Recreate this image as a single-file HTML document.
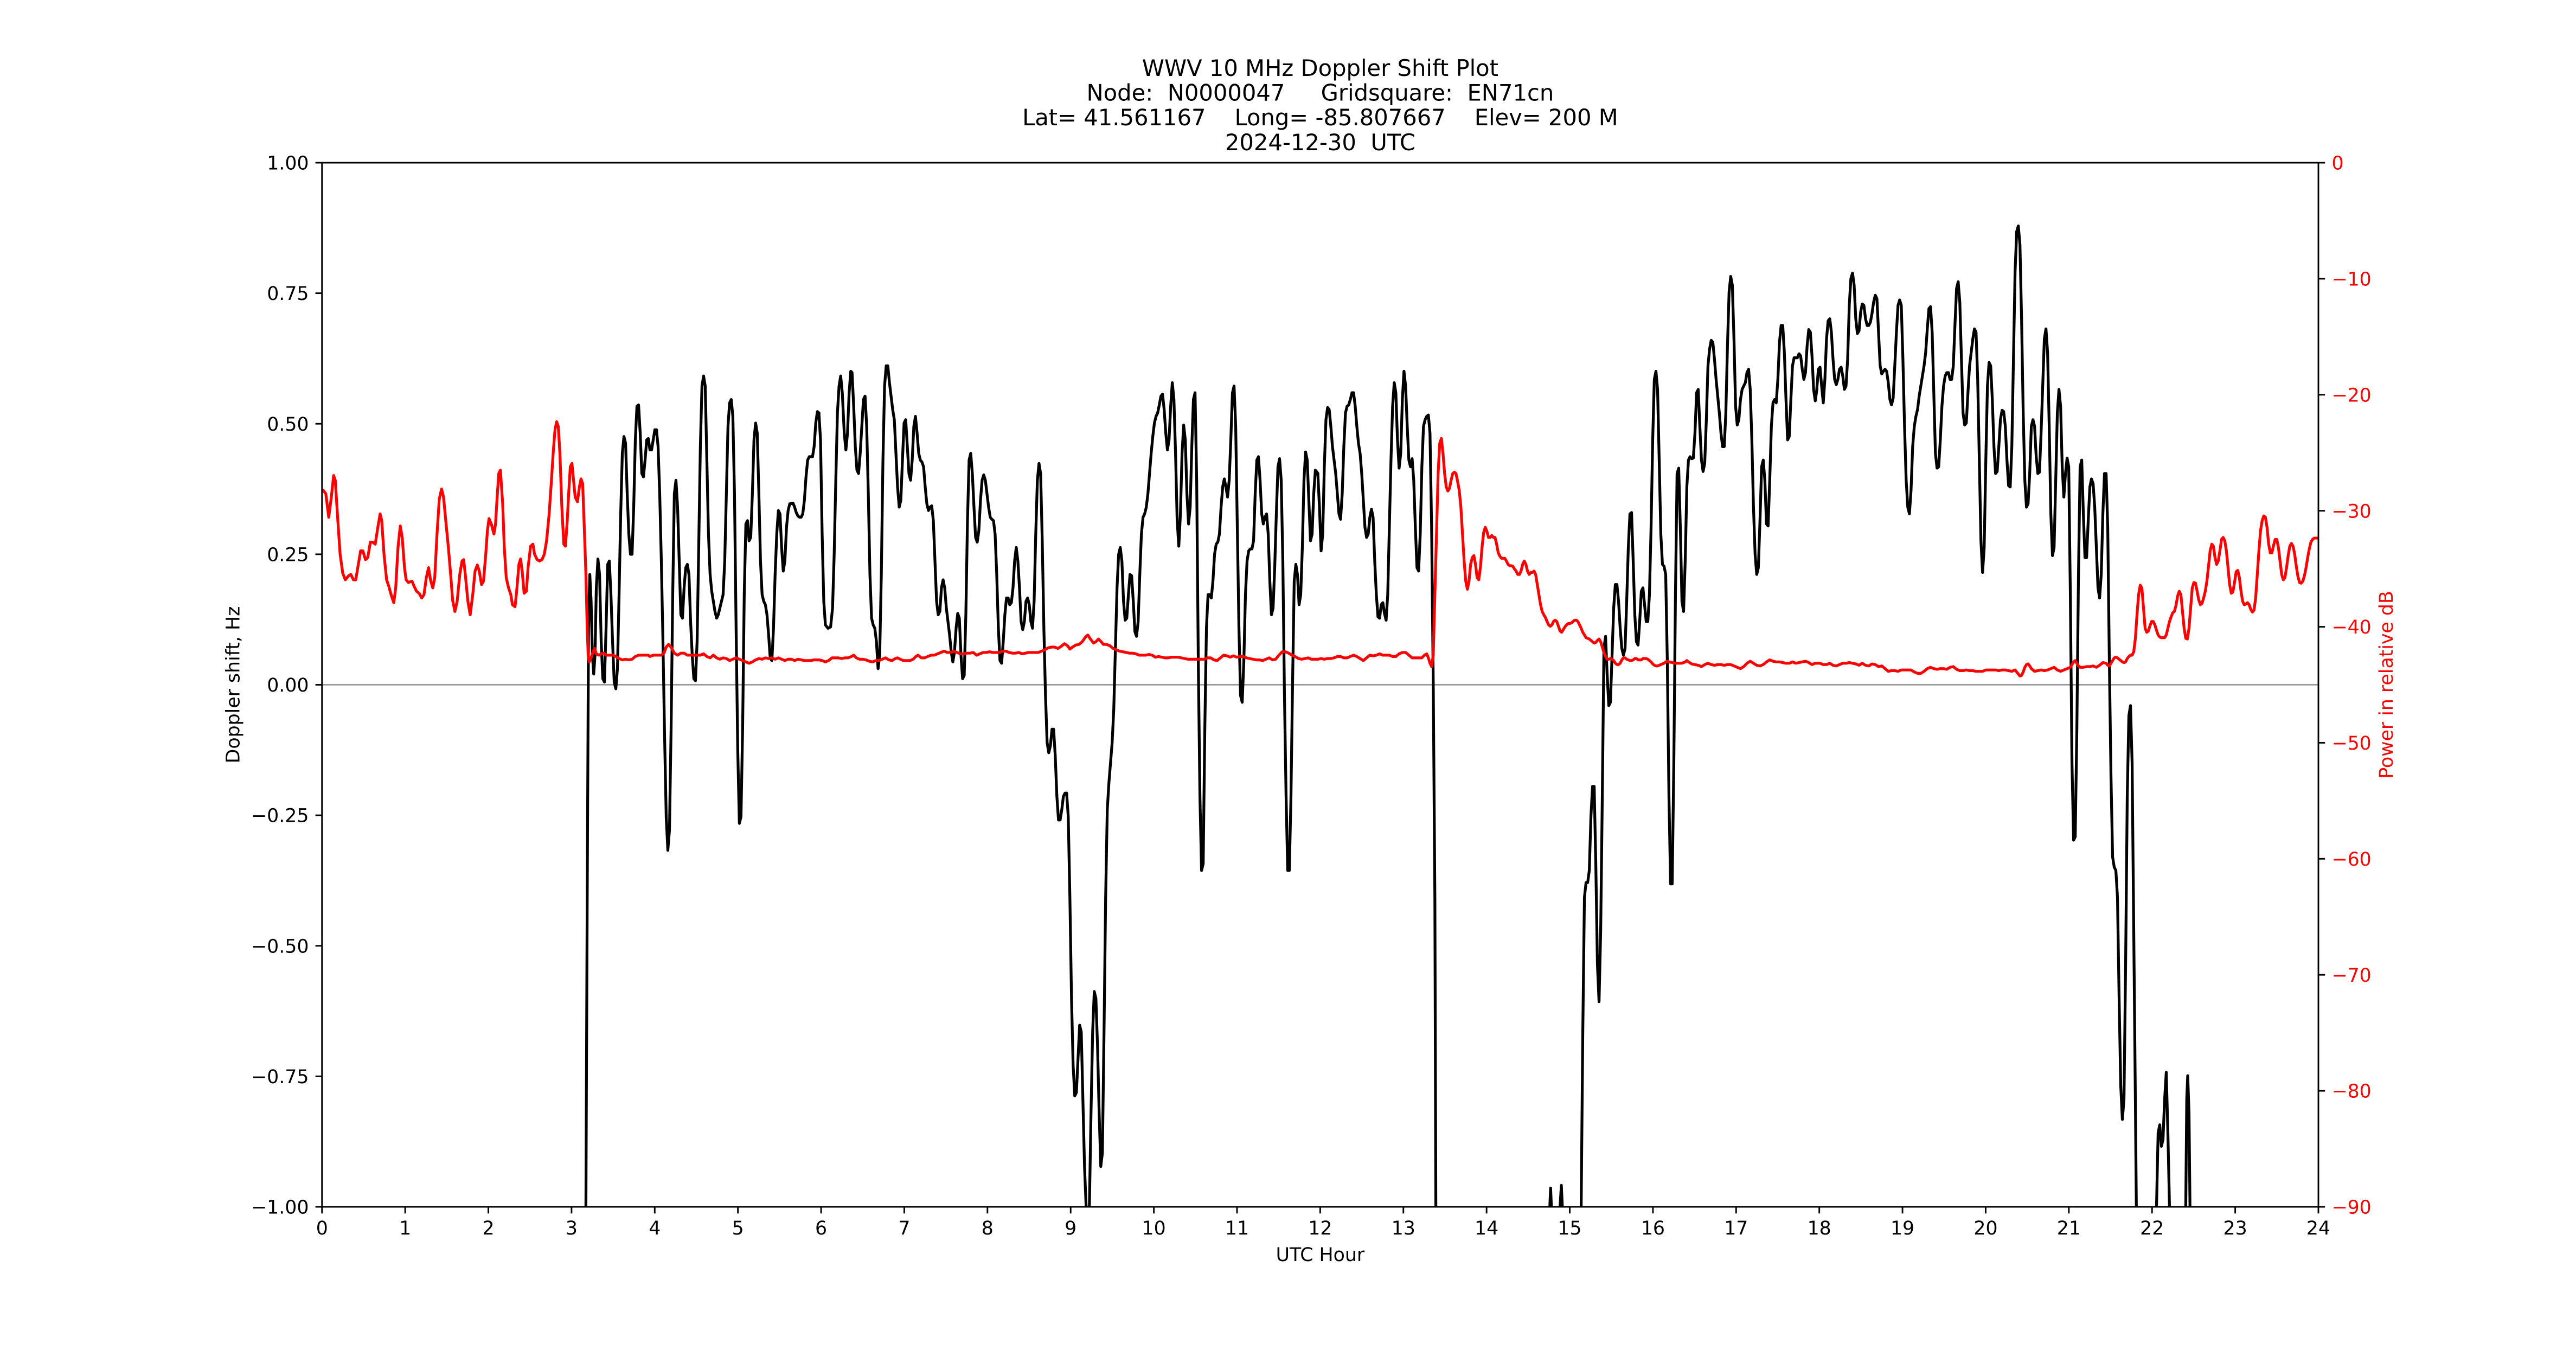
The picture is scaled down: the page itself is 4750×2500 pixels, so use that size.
<!DOCTYPE html>
<html>
<head>
<meta charset="utf-8">
<style>
html,body{margin:0;padding:0;background:#fff;}
svg{display:block;}
text{font-family:"DejaVu Sans","Liberation Sans",sans-serif;}
</style>
</head>
<body>
<svg xmlns="http://www.w3.org/2000/svg" width="4750" height="2500" viewBox="0 0 4750 2500">
<defs>
<clipPath id="ax"><rect x="593.75" y="300" width="3681.25" height="1925"/></clipPath>
</defs>
<rect x="0" y="0" width="4750" height="2500" fill="#fff"/>

<!-- zero line -->
<line x1="593.75" y1="1262.5" x2="4275" y2="1262.5" stroke="#808080" stroke-width="2.2"/>

<g clip-path="url(#ax)" fill="none" stroke-linejoin="round" stroke-linecap="round">
<!-- BLACK doppler -->
<g transform="matrix(0.59949 0 0 1.24043 590 290)">
<polyline vector-effect="non-scaling-stroke" stroke="#000" stroke-width="5.2" points="816,1620 818,1560 822,1100 826,700 830,620 834,660 838,740 842,768 846,740 850,640 855,597 860,620 865,720 870,775 875,780 880,700 885,605 890,600 895,650 900,720 905,780 910,790 915,760 920,650 925,530 930,440 935,415 940,425 945,500 950,560 955,590 960,590 965,520 970,420 975,370 980,368 985,410 990,470 995,475 1000,450 1005,420 1010,418 1015,435 1020,435 1025,420 1030,405 1035,405 1040,430 1045,500 1050,600 1055,720 1060,860 1065,980 1070,1030 1075,1000 1080,850 1085,650 1090,500 1095,480 1100,520 1105,600 1110,680 1115,685 1120,640 1125,610 1130,605 1135,620 1140,690 1145,740 1150,775 1155,778 1160,720 1165,580 1170,430 1175,340 1180,325 1185,340 1190,450 1195,560 1200,620 1205,645 1210,660 1215,675 1220,685 1225,680 1230,670 1240,650 1245,600 1250,500 1255,400 1260,365 1265,360 1270,385 1275,500 1280,700 1285,880 1290,990 1295,980 1300,850 1305,650 1310,545 1315,540 1320,570 1325,565 1330,500 1335,420 1340,395 1345,410 1350,500 1355,600 1360,650 1365,660 1370,665 1375,680 1380,710 1385,745 1390,748 1395,700 1400,620 1405,560 1410,525 1415,530 1420,580 1425,615 1430,600 1435,550 1440,525 1445,515 1455,514 1460,520 1465,528 1470,533 1475,535 1480,535 1485,530 1490,510 1495,475 1500,450 1505,445 1510,445 1515,445 1520,430 1525,395 1530,378 1535,380"/>
</g>
<g transform="matrix(0.59949 0 0 1.24043 1510 290)">
<polyline vector-effect="non-scaling-stroke" stroke="#000" stroke-width="5.2" points="0,380 5,420 10,560 15,660 20,695 28,700 36,698 42,670 47,590 52,480 57,380 62,340 67,325 72,350 78,410 83,435 88,410 93,350 98,318 102,320 107,370 112,430 117,465 122,470 127,440 132,400 137,360 142,355 147,400 152,500 157,620 162,685 167,695 172,700 177,720 182,760 187,740 192,620 197,450 202,340 207,310 212,310 217,335 222,355 227,375 232,390 237,440 242,490 247,520 252,510 257,450 262,395 267,390 272,430 277,470 282,480 287,450 292,400 297,385 302,410 307,440 312,450 317,453 322,460 327,490 332,515 337,525 342,520 347,518 352,540 357,600 362,660 367,680 372,675 377,640 382,628 387,640 392,670 397,690 402,710 407,735 412,750 417,735 422,700 427,678 432,685 437,740 442,775 447,770 452,680 457,540 462,450 467,440 472,470 477,520 482,565 487,572 492,555 497,510 502,480 507,472 512,480 517,500 522,520 527,535 532,538 537,540 542,560 547,620 552,700 557,748 562,752 567,720 572,680 577,655 582,655 587,665 592,662 597,640 602,600 607,580 612,600 617,640 622,690 627,702 632,690 637,660 642,655 647,665 652,690 657,700 662,660 667,560 672,480 677,455 682,470 687,570 692,700 697,800 702,870 707,885 712,875 717,850 722,850 727,890 732,950 737,985 742,985 747,970 752,950 757,945 762,945 767,980 772,1100 777,1250 782,1350 787,1395 792,1390 797,1340 802,1290 807,1300 812,1400 817,1500 822,1560 825,1620 829,1620 832,1560 837,1420 842,1300 847,1240 852,1250 857,1320 862,1420 867,1500 872,1480 877,1300 882,1100 887,970 892,930 897,900 902,870 907,820 912,730 917,640 922,590 927,580 932,600 937,660 942,688 947,685 952,650 957,620 962,622 967,660 972,705 977,712 982,690 987,620 992,560 997,535 1002,530 1007,520 1012,500 1017,470 1022,440 1027,415 1032,395 1037,385 1042,380 1047,368 1052,355 1057,352 1062,375 1067,410 1072,435 1077,420 1082,370 1087,335 1092,360 1097,440 1102,540 1107,578 1112,530 1117,440 1122,398 1127,420 1132,500 1137,545 1142,520 1147,430 1152,360 1157,350 1162,480 1167,750 1172,950 1177,1060 1182,1050 1187,850 1192,700 1197,650 1202,650 1207,655 1212,630 1217,590 1222,575 1227,572 1232,560 1237,520 1242,490 1247,478 1252,490 1257,505 1262,480 1267,420 1272,350 1277,340 1282,400 1287,550 1292,700 1297,800 1302,810 1307,750 1312,650 1317,600 1322,585 1327,582 1332,582 1337,570 1342,500 1347,450 1352,445 1357,480 1362,530 1367,545 1372,535 1377,530 1382,560 1387,630 1392,680 1397,670 1402,610 1407,530 1412,460 1417,448 1422,480 1427,600 1432,800 1437,950 1442,1060 1447,1060 1452,950 1457,780 1462,630 1467,605 1472,620 1477,665 1482,650 1487,580 1492,480 1497,438 1502,450 1507,510 1512,570 1517,560 1522,500 1527,465 1532,468 1535,470"/>
</g>
<g transform="matrix(0.59949 0 0 1.24043 2430 290)">
<polyline vector-effect="non-scaling-stroke" stroke="#000" stroke-width="5.2" points="0,470 5,520 10,585 15,560 20,460 25,390 30,372 35,375 40,400 45,430 50,450 55,470 60,500 65,530 70,538 75,500 80,430 85,380 90,370 95,368 100,360 105,350 110,350 115,370 120,400 125,425 130,440 135,470 140,510 145,550 150,565 155,560 160,535 165,523 170,535 175,600 180,650 185,683 190,685 195,665 200,662 205,678 210,688 215,650 220,550 225,450 230,370 235,335 240,350 245,420 250,462 255,440 260,360 265,318 270,340 275,400 280,450 285,460 290,448 295,480 300,550 305,610 310,615 315,560 320,460 325,400 330,390 335,385 340,383 345,410 350,550 355,780 360,1100 363,1560 365,1650 705,1650 710,1600 716,1532 722,1600 740,1600 749,1528 756,1600 805,1600 810,1560 815,1300 820,1100 825,1078 830,1078 835,1060 840,980 845,935 850,935 855,1050 860,1200 865,1255 870,1150 875,950 880,730 885,712 890,770 895,815 900,810 905,740 910,670 915,635 920,635 925,660 930,700 935,730 940,740 945,730 950,660 955,580 960,530 965,528 970,600 975,680 980,720 985,725 990,690 995,645 1000,640 1005,665 1010,690 1015,690 1020,650 1025,550 1030,420 1035,330 1040,318 1045,345 1050,450 1055,560 1060,605 1065,608 1070,620 1075,750 1080,950 1085,1080 1090,1080 1095,900 1100,650 1105,470 1110,462 1115,550 1120,660 1125,675 1130,600 1135,490 1140,450 1145,445 1150,448 1155,447 1160,410 1165,350 1170,345 1175,400 1180,450 1185,467 1190,455 1195,390 1200,310 1205,285 1210,272 1215,275 1220,300 1225,330 1230,355 1235,380 1240,410 1245,430 1250,430 1255,380 1260,280 1265,200 1270,177 1275,190 1280,270 1285,370 1290,398 1295,390 1300,360 1305,345 1310,340 1315,335 1320,320 1325,315 1330,345 1335,420 1340,520 1345,590 1350,620 1355,610 1360,540 1365,460 1370,450 1375,480 1380,545 1385,548 1390,480 1395,400 1400,365 1405,360 1410,365 1415,330 1420,275 1425,250 1430,250 1435,290 1440,360 1445,420 1450,415 1455,360 1460,310 1465,298 1470,298 1475,298 1480,292 1485,295 1490,315 1495,330 1500,320 1505,280 1510,256 1515,260 1520,295 1525,345 1530,362 1535,345"/>
</g>
<g transform="matrix(0.59949 0 0 1.24043 3350 290)">
<polyline vector-effect="non-scaling-stroke" stroke="#000" stroke-width="5.2" points="0,345 5,315 10,312 15,340 20,365 25,330 30,270 35,243 40,240 45,260 50,300 55,330 60,338 65,330 70,315 75,312 80,325 85,345 90,340 95,300 100,220 105,180 110,172 115,190 120,240 125,262 130,258 135,230 140,218 145,220 150,240 155,250 160,250 165,245 170,232 175,215 180,205 185,210 190,260 195,310 200,322 205,318 210,315 215,318 220,335 225,360 230,368 235,358 240,310 245,260 250,220 255,212 260,220 265,300 270,400 275,480 280,520 285,530 290,495 295,430 300,400 305,385 310,375 315,355 320,340 325,325 330,310 335,290 340,255 345,225 350,222 355,260 360,350 365,440 370,462 375,460 380,420 385,370 390,340 395,325 400,320 405,320 410,330 415,330 420,310 425,250 430,195 435,185 440,215 445,300 450,380 455,398 460,395 465,350 470,310 475,290 480,270 485,255 490,260 495,330 500,450 505,570 510,617 515,580 520,450 525,340 530,305 535,310 540,360 545,430 550,470 555,467 560,430 565,390 570,376 575,378 580,400 585,450 590,488 595,490 600,430 605,300 610,170 615,110 620,102 625,130 630,240 635,380 640,480 645,520 650,515 655,470 660,400 665,390 670,400 675,445 680,470 685,468 690,410 695,340 700,270 705,255 710,290 715,400 720,530 725,592 730,580 735,480 740,380 745,345 750,370 755,460 760,505 765,470 770,447 775,460 780,650 785,900 790,1015 795,1010 800,850 805,620 810,460 815,450 820,530 825,595 830,595 835,540 840,490 845,478 850,485 855,520 860,580 865,640 870,655 875,620 880,530 885,470 890,470 895,550 900,750 905,920 910,1040 915,1055 920,1060 925,1100 930,1250 935,1380 940,1430 945,1400 950,1200 955,950 960,830 965,815 970,900 975,1150 980,1400 983,1560 986,1650 1040,1650 1045,1560 1050,1450 1055,1438 1060,1470 1065,1460 1070,1400 1075,1360 1080,1450 1085,1560 1088,1650 1132,1650 1135,1560 1138,1400 1141,1365 1145,1420 1148,1560 1151,1650 1542,1650"/>
</g>

<!-- RED power -->
<g transform="matrix(0.59949 0 0 1.24043 590 290)">
<polyline vector-effect="non-scaling-stroke" stroke="#ff0000" stroke-width="5.2" points="6,495 10,495 18,500 27,535 35,505 42,473 47,480 55,540 62,590 70,618 78,628 88,622 95,620 103,628 110,628 118,605 125,585 132,585 140,598 147,595 155,572 162,572 170,575 178,550 185,530 190,540 197,590 205,628 212,638 220,652 227,662 233,640 240,580 247,548 253,565 260,610 265,628 272,632 283,630 290,638 297,645 305,648 313,655 320,650 327,625 334,610 340,628 347,640 353,625 360,560 367,508 374,493 380,505 387,540 395,580 402,620 408,658 415,675 422,660 430,620 437,600 442,598 447,620 455,660 462,680 470,650 477,615 484,606 490,615 497,635 503,630 510,590 515,555 520,537 527,545 535,560 540,545 545,505 550,470 555,465 562,515 567,580 573,625 580,640 587,650 592,665 600,668 605,645 612,605 617,597 622,615 628,648 635,645 640,610 648,578 655,575 660,590 668,598 675,600 683,598 690,590 697,570 705,530 712,480 718,435 723,405 728,393 733,400 738,440 744,520 750,575 755,578 760,545 765,500 770,460 775,455 780,480 785,505 792,512 798,490 803,478 808,485 813,550 818,620 822,700 825,740 828,750 833,745 840,735 845,730 850,738 858,740 865,738 873,737 880,740 888,740 895,740 902,740 910,742 920,745 930,747 940,746 950,747 960,746 970,742 980,740 990,740 1000,740 1010,740 1015,742 1025,740 1040,740 1050,740 1058,737 1065,728 1072,724 1080,728 1090,737 1100,740 1110,737 1120,737 1130,740 1140,740 1150,740 1160,740 1170,740 1180,738 1190,742 1200,744 1210,740 1220,744 1230,746 1240,744 1250,745 1260,748 1270,746 1280,744 1290,746 1300,748 1310,750 1320,752 1330,750 1340,747 1350,745 1360,746 1370,744 1380,745 1390,744 1400,746 1410,744 1420,746 1430,748 1440,746 1450,746 1460,748 1470,746 1480,747 1490,748 1500,748 1510,748 1520,747 1535,747"/>
</g>
<g transform="matrix(0.59949 0 0 1.24043 1510 290)">
<polyline vector-effect="non-scaling-stroke" stroke="#ff0000" stroke-width="5.2" points="0,747 10,748 20,750 30,748 40,744 50,744 60,744 70,745 80,744 90,744 100,742 107,740 115,744 125,746 135,746 145,747 155,749 165,750 175,748 185,748 195,746 205,744 215,747 225,748 235,745 242,744 250,746 260,748 270,748 280,748 290,746 298,742 305,740 315,744 325,744 335,742 345,740 355,740 365,738 375,736 385,734 395,736 405,736 415,734 425,736 435,738 445,738 455,737 465,737 475,736 485,740 495,738 505,736 515,736 525,735 535,736 545,736 555,736 565,734 575,734 585,736 595,737 605,737 615,736 625,738 635,737 645,736 655,736 665,736 675,736 685,734 695,732 705,729 715,728 725,728 735,730 745,727 755,723 765,726 772,731 780,728 790,725 800,724 810,720 820,713 827,710 835,716 845,722 852,720 860,716 868,720 875,724 885,724 895,726 905,730 915,732 925,734 935,735 945,736 955,737 965,737 975,738 985,740 995,740 1005,740 1015,739 1025,740 1035,743 1045,742 1055,743 1065,744 1075,744 1085,743 1095,743 1105,743 1115,744 1125,745 1135,746 1145,746 1155,746 1165,746 1175,746 1185,746 1195,744 1205,744 1215,747 1225,748 1235,744 1245,740 1255,741 1265,743 1275,741 1285,743 1295,742 1305,742 1315,744 1325,745 1335,746 1345,747 1355,747 1365,748 1375,746 1385,744 1395,747 1405,746 1415,740 1425,735 1435,735 1445,737 1455,740 1465,742 1475,745 1485,746 1495,745 1505,744 1515,746 1525,746 1535,746"/>
</g>
<g transform="matrix(0.59949 0 0 1.24043 2430 290)">
<polyline vector-effect="non-scaling-stroke" stroke="#ff0000" stroke-width="5.2" points="0,746 10,745 20,746 30,745 40,745 50,744 60,742 70,742 80,744 90,744 100,742 110,740 120,742 130,745 140,748 150,744 160,740 170,741 180,740 190,738 200,740 210,740 220,740 230,742 240,742 250,738 260,736 270,736 280,740 290,744 300,744 310,744 320,744 328,740 335,738 340,744 345,752 350,757 355,740 360,650 365,560 370,470 375,425 380,418 385,440 390,470 395,490 400,496 405,492 410,480 415,470 420,468 425,470 430,482 435,495 440,520 445,560 450,600 455,630 460,642 465,630 470,605 475,595 480,592 485,605 490,625 495,628 500,610 505,580 510,558 515,550 520,556 525,565 530,565 535,562 540,565 545,565 550,575 555,588 560,593 565,596 570,596 575,596 580,600 585,605 590,607 595,607 600,608 605,612 610,615 615,620 620,620 625,615 630,605 635,600 640,605 645,615 650,620 655,617 660,617 665,615 670,620 675,635 680,650 685,665 690,675 695,680 700,684 705,690 710,695 715,697 720,695 725,690 730,688 735,690 740,697 745,704 750,706 755,702 760,698 765,695 770,693 775,693 780,692 785,690 790,688 795,688 800,690 805,695 810,700 815,706 820,710 825,714 830,715 835,716 840,718 845,720 850,722 855,721 860,718 865,716 870,720 875,728 880,736 885,742 890,746 895,746 900,745 905,746 910,748 915,752 920,754 925,754 930,752 935,747 940,744 945,744 950,746 955,747 960,748 965,748 970,747 975,745 980,745 985,747 990,747 995,747 1000,745 1005,745 1010,745 1015,746 1020,748 1025,750 1030,753 1035,755 1040,756 1045,756 1050,755 1055,754 1060,753 1065,752 1070,750 1075,749 1080,750 1090,751 1100,752 1110,752 1120,752 1130,750 1135,748 1140,750 1150,753 1160,754 1170,755 1180,757 1190,754 1200,752 1210,754 1220,755 1230,754 1240,754 1250,755 1260,754 1270,754 1280,756 1290,758 1300,760 1310,757 1320,752 1330,749 1340,752 1350,755 1360,756 1370,754 1380,750 1390,747 1400,749 1410,750 1420,750 1430,751 1440,752 1450,752 1460,750 1470,752 1480,751 1490,750 1500,749 1510,751 1520,754 1530,752 1535,752"/>
</g>
<g transform="matrix(0.59949 0 0 1.24043 3350 290)">
<polyline vector-effect="non-scaling-stroke" stroke="#ff0000" stroke-width="5.2" points="0,752 10,752 20,754 30,754 40,752 50,755 60,756 70,754 80,752 90,752 100,751 110,752 120,753 130,755 140,752 150,755 160,756 170,753 180,754 190,757 200,756 210,760 220,764 230,763 240,763 250,764 260,762 270,762 280,762 290,762 300,765 310,767 320,767 330,764 340,760 350,758 360,760 370,761 380,760 390,760 400,761 410,758 420,757 430,761 440,763 450,763 460,762 470,763 480,763 490,764 500,764 510,764 520,762 530,762 540,762 550,762 560,763 570,762 580,762 590,763 600,764 610,762 620,768 625,771 630,770 635,765 640,758 645,754 650,753 655,756 660,760 670,764 680,763 690,762 700,763 710,762 720,760 730,758 740,762 750,764 760,762 770,760 780,758 790,750 795,748 800,752 805,756 810,758 820,758 830,757 840,757 850,756 860,758 870,755 880,751 890,752 895,755 900,756 905,752 910,748 915,744 920,743 925,744 930,746 935,748 940,750 945,751 950,750 955,745 960,742 965,740 970,740 975,735 980,715 985,680 990,650 995,636 1000,640 1005,670 1010,700 1015,706 1020,704 1025,696 1030,690 1035,690 1040,695 1045,703 1050,710 1055,713 1060,714 1065,714 1070,714 1075,710 1080,700 1085,690 1090,683 1095,677 1100,675 1105,666 1110,652 1115,645 1120,650 1125,675 1130,700 1135,715 1140,716 1145,700 1150,670 1155,640 1160,632 1165,633 1170,645 1175,658 1180,665 1185,663 1190,655 1195,645 1200,630 1205,608 1210,585 1215,575 1220,578 1225,595 1230,605 1235,600 1240,585 1245,568 1250,565 1255,570 1260,585 1265,610 1270,635 1275,648 1280,646 1285,632 1290,616 1295,614 1300,625 1305,645 1310,660 1315,665 1320,664 1325,662 1330,665 1335,672 1340,676 1345,673 1350,655 1355,620 1360,585 1365,555 1370,540 1375,533 1380,535 1385,550 1390,575 1395,588 1400,588 1405,577 1410,568 1415,568 1420,580 1425,600 1430,620 1435,628 1440,625 1445,610 1450,592 1455,578 1460,574 1465,578 1470,590 1475,608 1480,623 1485,632 1490,633 1495,630 1500,622 1505,610 1510,595 1515,582 1520,572 1525,568 1530,566 1542,566"/>
</g>
</g>

<!-- spines -->
<rect x="593.75" y="300" width="3681.25" height="1925" fill="none" stroke="#000" stroke-width="2.9"/>

<!-- left y ticks -->
<g stroke="#000" stroke-width="2.9">
<line x1="581.6" y1="300" x2="593.75" y2="300"/>
<line x1="581.6" y1="540.6" x2="593.75" y2="540.6"/>
<line x1="581.6" y1="781.25" x2="593.75" y2="781.25"/>
<line x1="581.6" y1="1021.9" x2="593.75" y2="1021.9"/>
<line x1="581.6" y1="1262.5" x2="593.75" y2="1262.5"/>
<line x1="581.6" y1="1503.1" x2="593.75" y2="1503.1"/>
<line x1="581.6" y1="1743.75" x2="593.75" y2="1743.75"/>
<line x1="581.6" y1="1984.4" x2="593.75" y2="1984.4"/>
<line x1="581.6" y1="2225" x2="593.75" y2="2225"/>
</g>
<g font-size="34.72" text-anchor="end" fill="#000">
<text x="569.5" y="312.6">1.00</text>
<text x="569.5" y="553.2">0.75</text>
<text x="569.5" y="793.9">0.50</text>
<text x="569.5" y="1034.5">0.25</text>
<text x="569.5" y="1275.1">0.00</text>
<text x="569.5" y="1515.7">−0.25</text>
<text x="569.5" y="1756.4">−0.50</text>
<text x="569.5" y="1997">−0.75</text>
<text x="569.5" y="2237.6">−1.00</text>
</g>

<!-- right y ticks -->
<g stroke="#000" stroke-width="2.9">
<line x1="4275" y1="300" x2="4287.2" y2="300"/>
<line x1="4275" y1="513.9" x2="4287.2" y2="513.9"/>
<line x1="4275" y1="727.8" x2="4287.2" y2="727.8"/>
<line x1="4275" y1="941.7" x2="4287.2" y2="941.7"/>
<line x1="4275" y1="1155.6" x2="4287.2" y2="1155.6"/>
<line x1="4275" y1="1369.4" x2="4287.2" y2="1369.4"/>
<line x1="4275" y1="1583.3" x2="4287.2" y2="1583.3"/>
<line x1="4275" y1="1797.2" x2="4287.2" y2="1797.2"/>
<line x1="4275" y1="2011.1" x2="4287.2" y2="2011.1"/>
<line x1="4275" y1="2225" x2="4287.2" y2="2225"/>
</g>
<g font-size="34.72" text-anchor="start" fill="#ff0000">
<text x="4299.5" y="312.6">0</text>
<text x="4299.5" y="526.5">−10</text>
<text x="4299.5" y="740.4">−20</text>
<text x="4299.5" y="954.3">−30</text>
<text x="4299.5" y="1168.2">−40</text>
<text x="4299.5" y="1382">−50</text>
<text x="4299.5" y="1595.9">−60</text>
<text x="4299.5" y="1809.8">−70</text>
<text x="4299.5" y="2023.7">−80</text>
<text x="4299.5" y="2237.6">−90</text>
</g>

<!-- x ticks -->
<g stroke="#000" stroke-width="2.9">
<line x1="593.75" y1="2225" x2="593.75" y2="2237.2"/>
<line x1="747.14" y1="2225" x2="747.14" y2="2237.2"/>
<line x1="900.52" y1="2225" x2="900.52" y2="2237.2"/>
<line x1="1053.91" y1="2225" x2="1053.91" y2="2237.2"/>
<line x1="1207.29" y1="2225" x2="1207.29" y2="2237.2"/>
<line x1="1360.68" y1="2225" x2="1360.68" y2="2237.2"/>
<line x1="1514.06" y1="2225" x2="1514.06" y2="2237.2"/>
<line x1="1667.45" y1="2225" x2="1667.45" y2="2237.2"/>
<line x1="1820.83" y1="2225" x2="1820.83" y2="2237.2"/>
<line x1="1974.22" y1="2225" x2="1974.22" y2="2237.2"/>
<line x1="2127.6" y1="2225" x2="2127.6" y2="2237.2"/>
<line x1="2280.99" y1="2225" x2="2280.99" y2="2237.2"/>
<line x1="2434.38" y1="2225" x2="2434.38" y2="2237.2"/>
<line x1="2587.76" y1="2225" x2="2587.76" y2="2237.2"/>
<line x1="2741.15" y1="2225" x2="2741.15" y2="2237.2"/>
<line x1="2894.53" y1="2225" x2="2894.53" y2="2237.2"/>
<line x1="3047.92" y1="2225" x2="3047.92" y2="2237.2"/>
<line x1="3201.3" y1="2225" x2="3201.3" y2="2237.2"/>
<line x1="3354.69" y1="2225" x2="3354.69" y2="2237.2"/>
<line x1="3508.07" y1="2225" x2="3508.07" y2="2237.2"/>
<line x1="3661.46" y1="2225" x2="3661.46" y2="2237.2"/>
<line x1="3814.84" y1="2225" x2="3814.84" y2="2237.2"/>
<line x1="3968.23" y1="2225" x2="3968.23" y2="2237.2"/>
<line x1="4121.61" y1="2225" x2="4121.61" y2="2237.2"/>
<line x1="4275" y1="2225" x2="4275" y2="2237.2"/>
</g>
<g font-size="34.72" text-anchor="middle" fill="#000">
<text x="593.75" y="2276">0</text>
<text x="747.14" y="2276">1</text>
<text x="900.52" y="2276">2</text>
<text x="1053.91" y="2276">3</text>
<text x="1207.29" y="2276">4</text>
<text x="1360.68" y="2276">5</text>
<text x="1514.06" y="2276">6</text>
<text x="1667.45" y="2276">7</text>
<text x="1820.83" y="2276">8</text>
<text x="1974.22" y="2276">9</text>
<text x="2127.6" y="2276">10</text>
<text x="2280.99" y="2276">11</text>
<text x="2434.38" y="2276">12</text>
<text x="2587.76" y="2276">13</text>
<text x="2741.15" y="2276">14</text>
<text x="2894.53" y="2276">15</text>
<text x="3047.92" y="2276">16</text>
<text x="3201.3" y="2276">17</text>
<text x="3354.69" y="2276">18</text>
<text x="3508.07" y="2276">19</text>
<text x="3661.46" y="2276">20</text>
<text x="3814.84" y="2276">21</text>
<text x="3968.23" y="2276">22</text>
<text x="4121.61" y="2276">23</text>
<text x="4275" y="2276">24</text>
</g>

<!-- axis labels -->
<text x="2434.4" y="2325" font-size="34.72" text-anchor="middle" fill="#000">UTC Hour</text>
<text transform="translate(441.5 1262.5) rotate(-90)" font-size="34.72" text-anchor="middle" fill="#000">Doppler shift, Hz</text>
<text transform="translate(4412 1262.5) rotate(-90)" font-size="34.72" text-anchor="middle" fill="#ff0000">Power in relative dB</text>

<!-- title -->
<g font-size="41.67" text-anchor="middle" fill="#000" style="white-space:pre">
<text x="2434.4" y="140" xml:space="preserve">WWV 10 MHz Doppler Shift Plot</text>
<text x="2434.4" y="185.6" xml:space="preserve">Node:  N0000047     Gridsquare:  EN71cn</text>
<text x="2434.4" y="231.2" xml:space="preserve">Lat= 41.561167    Long= -85.807667    Elev= 200 M</text>
<text x="2434.4" y="276.8" xml:space="preserve">2024-12-30  UTC</text>
</g>
</svg>
</body>
</html>
